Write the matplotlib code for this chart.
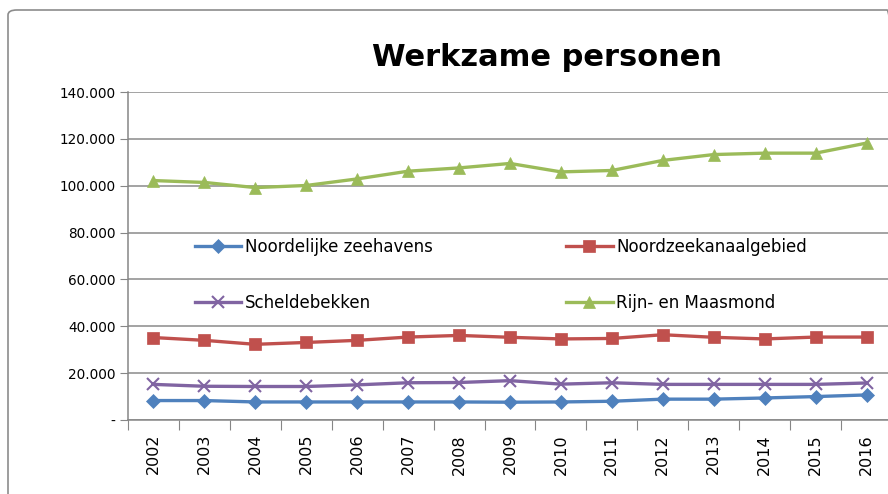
import matplotlib.pyplot as plt
from matplotlib.patches import FancyBboxPatch
from matplotlib.ticker import FuncFormatter, FixedLocator

years = [str(y) for y in range(2002, 2017)]

noordelijke = [8300, 8300, 7700, 7700, 7700, 7700, 7700, 7600, 7700, 8000,
               8900, 8900, 9400, 10000, 10700]
noordzee = [35200, 34000, 32300, 33100, 34000, 35400, 36100, 35300, 34600, 34800,
            36400, 35300, 34600, 35400, 35400]
schelde = [15200, 14400, 14300, 14300, 15000, 15900, 16000, 16800, 15300, 15900,
           15200, 15200, 15200, 15200, 15800]
rijn = [102200, 101400, 99200, 100100, 102900, 106200, 107600, 109500, 105900, 106500,
        110800, 113300, 113900, 113900, 118200]

series = [
    ("Noordelijke zeehavens", noordelijke, "#4F81BD", "D", 7),
    ("Noordzeekanaalgebied", noordzee, "#C0504D", "s", 9),
    ("Scheldebekken", schelde, "#8064A2", "x", 9),
    ("Rijn- en Maasmond", rijn, "#9BBB59", "^", 9),
]

fig = plt.figure(figsize=(8.88, 4.94), dpi=100)

# chart border (runs off the right and bottom of the picture)
border = FancyBboxPatch((8 / 888, -0.05), 1.0, 1 - 10 / 494 + 0.05,
                        boxstyle="round,pad=0,rounding_size=0.01",
                        transform=fig.transFigure, facecolor="none",
                        edgecolor="#8c8c8c", linewidth=1.2, zorder=5)
fig.patches.append(border)

ax = fig.add_axes([128 / 888, 1 - 420 / 494, 764 / 888, 328 / 494])

x = list(range(len(years)))
lines = []
for name, vals, color, marker, ms in series:
    ln, = ax.plot(x, vals, color=color, linewidth=2.4, marker=marker, markersize=ms,
                  markeredgewidth=1.5 if marker == "x" else 0.5,
                  markeredgecolor=color, label=name, solid_joinstyle="round")
    lines.append(ln)

ax.set_ylim(0, 140000)
ax.set_yticks(range(0, 140001, 20000))
ax.yaxis.set_major_formatter(FuncFormatter(
    lambda v, p: "-" if v == 0 else f"{int(v):,}".replace(",", ".")))
ax.set_xlim(-0.5, len(years) - 0.5)
ax.xaxis.set_major_locator(FixedLocator([i - 0.5 for i in range(len(years) + 1)]))
ax.xaxis.set_minor_locator(FixedLocator(x))
ax.set_xticklabels([])
ax.set_xticklabels(years, minor=True, rotation=90, fontsize=11.5)
ax.tick_params(axis="x", which="major", length=7, color="#868686", direction="out")
ax.tick_params(axis="x", which="minor", length=0, pad=10)
ax.tick_params(axis="y", length=6, color="#868686", labelsize=9.8, pad=3)

ax.grid(True, axis="y", color="#8a8a8a", linewidth=1.1)
ax.set_axisbelow(True)
for side in ("top", "right"):
    ax.spines[side].set_visible(False)
for side in ("left", "bottom"):
    ax.spines[side].set_color("#868686")
    ax.spines[side].set_linewidth(1.1)

# legend filled row by row, as in the original
order = [0, 2, 1, 3]
ax.legend([lines[i] for i in order], [series[i][0] for i in order],
          loc="upper left", bbox_to_anchor=(60 / 764, (420 - 231) / 328), ncol=2,
          frameon=False, fontsize=12, handlelength=2.8, handletextpad=0.2,
          columnspacing=8.0, labelspacing=2.3, borderaxespad=0)

fig.text(547 / 888, 1 - 57 / 494, "Werkzame personen", ha="center", va="center",
         fontsize=22, fontweight="bold")

fig.savefig("out.png", dpi=100)
